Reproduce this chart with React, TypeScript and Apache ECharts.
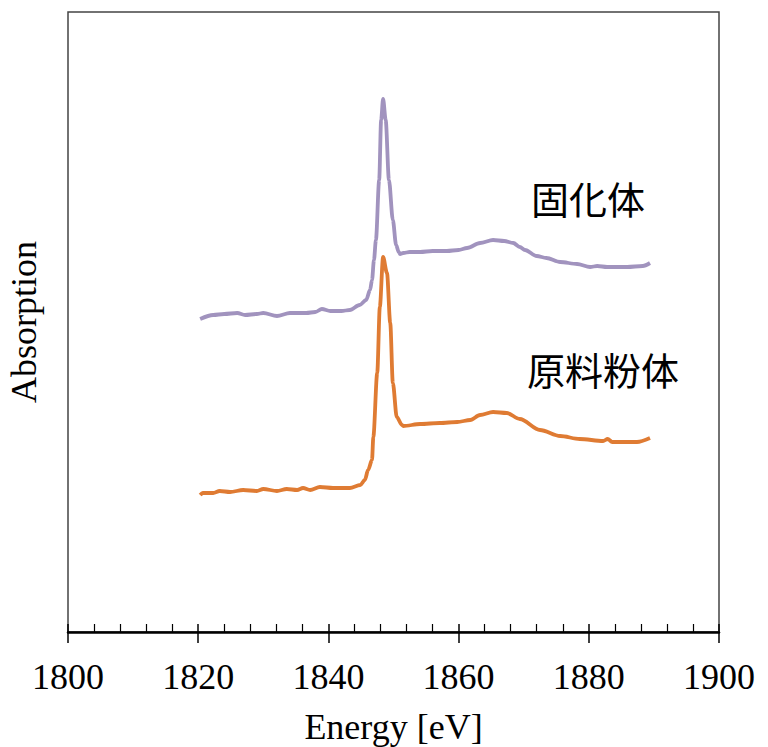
import React, { useEffect, useRef } from "react";
import * as echarts from "echarts";

// Energy [eV] and absorption (arbitrary units)
const solidifiedEnergy = [
  1820.3, 1822.3, 1824.0, 1826.0, 1827.2, 1829.0, 1830.0, 1832.1, 1834.1, 1836.6,
  1838.0, 1839.0, 1840.3, 1842.0, 1843.3, 1844.8, 1845.8, 1846.4, 1846.7, 1847.0,
  1847.3, 1847.8, 1848.1, 1848.4, 1848.8, 1849.3, 1849.9, 1850.4, 1850.8, 1851.0,
  1851.5, 1852.5, 1854.1, 1856.0, 1858.2, 1860.0, 1861.3, 1863.3, 1865.3, 1867.0,
  1868.4, 1869.4, 1870.2, 1872.0, 1873.5, 1875.6, 1878.2, 1880.2, 1881.3, 1882.8,
  1885.9, 1888.3, 1889.4,
];
const solidifiedAbs = [
  3.13, 3.17, 3.18, 3.19, 3.17, 3.18, 3.19, 3.16, 3.19, 3.19,
  3.2, 3.23, 3.21, 3.21, 3.22, 3.27, 3.32, 3.42, 3.52, 3.72,
  3.92, 4.52, 5.12, 5.33, 5.12, 4.52, 4.12, 3.87, 3.8, 3.78,
  3.79, 3.8, 3.8, 3.81, 3.81, 3.82, 3.84, 3.89, 3.92, 3.91,
  3.89, 3.85, 3.82, 3.76, 3.74, 3.7, 3.68, 3.65, 3.66, 3.65,
  3.65, 3.66, 3.69,
];

const rawEnergy = [
  1820.3, 1820.7, 1822.3, 1823.3, 1824.9, 1826.9, 1829.0, 1830.0, 1832.1, 1833.6,
  1835.2, 1836.1, 1837.2, 1838.7, 1840.7, 1843.3, 1844.9, 1845.6, 1846.1, 1846.7,
  1846.9, 1847.5, 1847.9, 1848.4, 1849.0, 1849.5, 1849.9, 1850.5, 1851.3, 1851.5,
  1854.1, 1857.1, 1859.8, 1861.8, 1863.3, 1865.3, 1867.4, 1869.4, 1872.5, 1875.6,
  1878.6, 1882.2, 1882.9, 1883.6, 1887.4, 1889.4,
];
const rawAbs = [
  1.37, 1.39, 1.39, 1.41, 1.4, 1.42, 1.41, 1.43, 1.41, 1.43,
  1.42, 1.44, 1.42, 1.45, 1.44, 1.44, 1.47, 1.52, 1.62, 1.72,
  1.95, 2.59, 3.25, 3.75, 3.59, 3.09, 2.49, 2.15, 2.07, 2.06,
  2.08, 2.09, 2.1, 2.12, 2.17, 2.2, 2.19, 2.13, 2.02, 1.96,
  1.93, 1.91, 1.93, 1.9, 1.9, 1.94,
];

const seriesNames = ["固化体", "原料粉体"];
const xTicks = [1800, 1820, 1840, 1860, 1880, 1900];

export default function App() {
  const ref = useRef<HTMLDivElement>(null);
  useEffect(() => {
    if (!ref.current) return;
    const chart = echarts.init(ref.current, null, { renderer: "svg" });
    const serif = "'Liberation Serif', 'Times New Roman', serif";
    const jp = "'Noto Sans CJK JP', sans-serif";
    chart.setOption({
      animation: false,
      grid: {
        left: 68,
        right: 49,
        top: 12,
        bottom: 115,
        show: true,
        borderColor: "#444",
        borderWidth: 1.5,
        containLabel: false,
        outerBoundsMode: "none",
      },
      xAxis: [
        {
          type: "value",
          min: xTicks[0],
          max: xTicks[xTicks.length - 1],
          interval: 20,
          position: "bottom",
          name: "Energy [eV]",
          nameLocation: "middle",
          nameGap: 77,
          nameTextStyle: { fontFamily: serif, fontSize: 36, color: "#000" },
          axisLine: { show: true, lineStyle: { color: "#000", width: 2.5 } },
          axisTick: { show: true, inside: true, length: 8, lineStyle: { color: "#000", width: 1.5 } },
          minorTick: { show: true, splitNumber: 5, length: 8, lineStyle: { color: "#000", width: 1.2 } },
          axisLabel: {
            fontFamily: serif,
            fontSize: 36,
            color: "#000",
            margin: 27,
            formatter: (v: number) => String(v),
          },
          splitLine: { show: false },
        },
        {
          type: "value",
          min: xTicks[0],
          max: xTicks[xTicks.length - 1],
          interval: 20,
          position: "bottom",
          axisLine: { show: false },
          axisTick: { show: true, inside: false, length: 11, lineStyle: { color: "#000", width: 1.5 } },
          axisLabel: { show: false },
          splitLine: { show: false },
        },
      ],
      yAxis: {
        type: "value",
        min: 0,
        max: 6.2,
        name: "Absorption",
        nameLocation: "middle",
        nameGap: 26,
        nameTextStyle: { fontFamily: serif, fontSize: 36, color: "#000" },
        axisLine: { show: false },
        axisTick: { show: false },
        axisLabel: { show: false },
        splitLine: { show: false },
      },
      series: [
        {
          name: seriesNames[0],
          type: "line",
          data: solidifiedEnergy.map((e, i) => [e, solidifiedAbs[i]]),
          showSymbol: false,
          smooth: 0.3,
          smoothMonotone: "x",
          lineStyle: { color: "#a193be", width: 3.8 },
        },
        {
          name: seriesNames[1],
          type: "line",
          data: rawEnergy.map((e, i) => [e, rawAbs[i]]),
          showSymbol: false,
          smooth: 0.3,
          smoothMonotone: "x",
          lineStyle: { color: "#df7b33", width: 3.8 },
        },
      ],
      graphic: [
        {
          type: "text",
          left: 531,
          top: 178,
          style: { text: seriesNames[0], fontFamily: jp, fontSize: 38, fill: "#000" },
        },
        {
          type: "text",
          left: 527,
          top: 349,
          style: { text: seriesNames[1], fontFamily: jp, fontSize: 38, fill: "#000" },
        },
      ],
    });
    return () => chart.dispose();
  }, []);
  return (
    <div
      ref={ref}
      style={{ position: "absolute", left: 0, top: 0, width: 768, height: 747 }}
    />
  );
}
